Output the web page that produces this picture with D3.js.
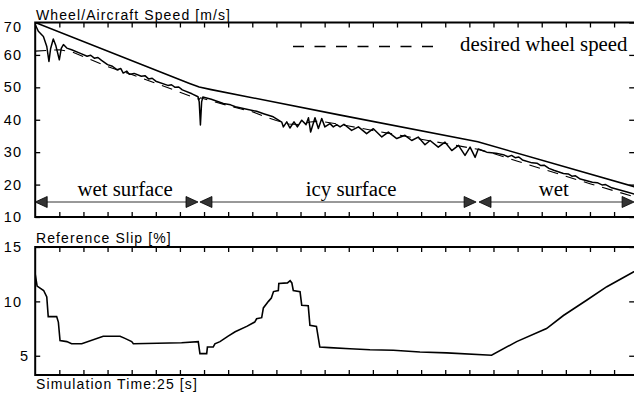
<!DOCTYPE html>
<html>
<head>
<meta charset="utf-8">
<script src="https://cdn.jsdelivr.net/npm/d3@7"></script>
<style>
  body { margin: 0; background: #fff; }
  svg { display: block; }
  .sans { font-family: "Liberation Sans", Arial, sans-serif; }
  .serif { font-family: "Liberation Serif", "Times New Roman", serif; }
</style>
</head>
<body>
<script>
// ---- data ----
const speedTicks = [10, 20, 30, 40, 50, 60, 70];
const slipTicks = [5, 10, 15];
const timeTicks = d3.range(1, 25);

// aircraft speed [t, m/s]
const aircraftSpeed = [[0, 70], [6.4, 51.2], [6.8, 50.1], [7.3, 49.3], [12.6, 41.5], [18.35, 33.2], [25, 19.0]];

// desired wheel speed [t, m/s]
const desiredSpeed = [
  [0, 61.8], [1.0, 62.2], [1.5, 61.6], [2, 60.1], [3, 57.0], [4, 54.6], [5, 51.9], [6, 49.1],
  [6.8, 46.9], [6.85, 47.4], [7.5, 46.0], [8, 45.0], [8.5, 44.0], [9, 43.1], [9.5, 41.6],
  [10, 40.4], [10.5, 39.3], [11, 39.1], [11.4, 39.9], [11.8, 40.2], [13, 38.7], [14, 37.3],
  [15, 36.0], [16, 34.6], [17, 33.3], [18.35, 31.5], [19, 30.2], [20, 27.8], [21, 25.5],
  [22, 23.2], [23, 20.9], [24, 18.7], [25, 16.5]
];

// measured wheel speed [t, m/s]
const wheelSpeed = [
  [0, 69.4], [0.13, 67.3], [0.34, 65.7], [0.48, 62.6], [0.57, 58.0], [0.64, 62.0], [0.75, 64.9],
  [0.85, 63.0], [1.0, 58.5], [1.08, 62.0], [1.17, 63.2], [1.31, 62.1], [1.51, 61.6], [1.9, 60.4],
  [2.15, 59.6], [2.3, 59.9], [2.45, 59.0], [2.6, 59.2], [2.75, 58.3], [3.0, 57.0], [3.2, 56.5],
  [3.4, 55.4], [3.55, 55.8], [3.65, 54.4], [3.8, 55.0], [3.9, 54.0], [4.1, 54.3], [4.4, 53.4],
  [4.55, 53.6], [4.7, 52.6], [4.85, 52.8], [5.0, 51.9], [5.5, 50.6], [5.65, 50.8], [5.8, 50.0],
  [5.95, 50.1], [6.1, 49.2], [6.5, 48.0], [6.75, 47.1], [6.8, 45.5], [6.85, 38.4], [6.9, 45.5],
  [6.95, 47.0], [7.3, 46.3], [7.8, 45.0], [8.1, 44.6], [8.3, 44.0], [8.63, 43.5], [9.18, 42.6],
  [9.5, 41.8], [9.87, 40.9], [10.22, 39.3],
  [10.29, 37.8], [10.43, 39.35], [10.56, 37.45], [10.73, 39.35], [10.87, 37.8], [11.05, 39.85],
  [11.23, 38.5], [11.33, 40.6], [11.42, 36.2], [11.6, 40.6], [11.74, 37.3], [11.88, 40.4],
  [12.01, 37.8], [12.22, 38.8], [12.36, 37.8], [12.5, 38.5], [12.64, 37.8], [12.8, 38.6],
  [13.12, 36.7], [13.4, 37.8], [13.74, 35.7], [14.02, 37.25], [14.37, 34.7], [14.64, 36.2],
  [14.99, 34.2], [15.33, 35.2], [15.61, 33.6], [15.88, 34.65], [16.16, 32.3], [16.37, 33.6],
  [16.71, 31.55], [16.99, 33.1], [17.27, 30.5], [17.55, 32.1], [17.82, 29.0], [18.03, 31.55],
  [18.24, 28.4], [18.37, 31.0], [18.72, 30.0],
  [19.1, 29.7], [19.45, 29.1], [19.6, 28.6], [19.75, 29.0], [19.9, 28.3], [20.05, 28.5],
  [20.2, 27.6], [20.6, 26.7], [20.8, 26.6], [20.95, 25.9], [21.1, 26.0], [21.3, 25.0],
  [21.5, 24.4], [21.9, 23.4], [22.1, 23.3], [22.25, 22.6], [22.4, 22.7], [22.6, 21.7],
  [23.1, 20.7], [23.3, 20.6], [23.5, 19.9], [23.65, 20.0], [23.9, 19.0], [24.5, 17.8], [25, 16.7]
];

// reference slip [t, %]
const referenceSlip = [
  [0, 12.5], [0.08, 11.4], [0.35, 11.0], [0.48, 10.4], [0.54, 8.6], [0.89, 8.6], [0.96, 8.1],
  [1.03, 6.4], [1.31, 6.3], [1.51, 6.1], [1.93, 6.1], [2.82, 6.8], [3.52, 6.8], [3.72, 6.6],
  [4.0, 6.3], [4.07, 6.1], [6.07, 6.2], [6.76, 6.3], [6.83, 5.2], [7.11, 5.2], [7.14, 5.8],
  [7.38, 5.8], [7.45, 6.1], [7.66, 6.3], [8.0, 6.8], [8.29, 7.2], [8.77, 7.7], [9.1, 8.1],
  [9.18, 8.4], [9.39, 8.5], [9.46, 9.4], [9.67, 10.0], [9.79, 10.3], [9.88, 10.9], [10.08, 11.0],
  [10.1, 11.65], [10.46, 11.7], [10.57, 11.9], [10.64, 11.7], [10.7, 11.0], [10.98, 10.9],
  [11.05, 9.65], [11.32, 9.6], [11.39, 7.8], [11.66, 7.7], [11.8, 5.8], [12.2, 5.75],
  [13.05, 5.65], [13.88, 5.55], [14.85, 5.5], [15.95, 5.35], [17.06, 5.26], [18.92, 5.05],
  [19.96, 6.3], [21.2, 7.5], [21.9, 8.7], [22.86, 10.1], [23.7, 11.35], [24.8, 12.7], [25, 12.9]
];

// runway surface sections
const surfaceNames = ["wet surface", "icy surface", "wet"];
const surfaceStart = [0, 6.83, 18.4];
const surfaceEnd = [6.75, 18.28, 24.83];
const surfaceLabelAt = [3.73, 13.1, 21.5];

// ---- layout ----
const width = 634, height = 395;

const svg = d3.select("body").append("svg")
  .attr("width", width)
  .attr("height", height);

const x = d3.scaleLinear().domain([0, 25]).range([35.2, 638.2]);
const ySpeed = d3.scaleLinear().domain([10, 70]).range([217, 22.5]);
const ySlip = d3.scaleLinear().domain([3.23, 15]).range([375, 247]);

const fontAxis = "14.5px";

function panel(y, ticks, title, titleY, clipId) {
  const g = svg.append("g");
  const [y0, y1] = y.range();

  svg.append("clipPath").attr("id", clipId)
    .append("rect")
    .attr("x", x(0)).attr("y", y1)
    .attr("width", x(25) - x(0)).attr("height", y0 - y1);

  // tick marks along the top and bottom edges
  g.append("g")
    .attr("transform", `translate(0,${y1})`)
    .call(d3.axisTop(x).tickValues(timeTicks).tickSize(-5).tickFormat(""))
    .call(a => a.select(".domain").remove());
  g.append("g")
    .attr("transform", `translate(0,${y0})`)
    .call(d3.axisBottom(x).tickValues(timeTicks).tickSize(-5).tickFormat(""))
    .call(a => a.select(".domain").remove());

  // left axis with labels
  const left = g.append("g")
    .attr("class", "sans")
    .attr("transform", `translate(${x(0)},0)`)
    .call(d3.axisLeft(y).tickValues(ticks).tickSize(-5).tickPadding(13))
    .call(a => a.select(".domain").remove());
  left.selectAll("text")
    .attr("font-size", fontAxis)
    .attr("letter-spacing", "1.2px")
    .attr("fill", "#000");

  // right axis ticks
  g.append("g")
    .attr("transform", `translate(${x(25)},0)`)
    .call(d3.axisRight(y).tickValues(ticks).tickSize(-9).tickFormat(""))
    .call(a => a.select(".domain").remove());

  g.selectAll(".tick line").attr("stroke", "#000").attr("stroke-width", 1.3);

  // frame
  g.append("path")
    .attr("d", `M${x(25)},${y1}H${x(0)}V${y0}H${x(25)}`)
    .attr("fill", "none")
    .attr("stroke", "#000")
    .attr("stroke-width", 2);

  svg.append("text")
    .attr("class", "sans")
    .attr("x", 36).attr("y", titleY)
    .attr("font-size", "14px")
    .attr("letter-spacing", "1.1px")
    .text(title);

  return left;
}

const leftTop = panel(ySpeed, speedTicks, "Wheel/Aircraft Speed [m/s]", 19.5, "clipTop");
leftTop.selectAll(".tick text").filter(d => d === 70).attr("dy", "0.62em");

const leftBottom = panel(ySlip, slipTicks, "Reference Slip [%]", 242.5, "clipBottom");
leftBottom.selectAll(".tick text").filter(d => d === 5).attr("dx", 7);

svg.append("text")
  .attr("class", "sans")
  .attr("x", 36).attr("y", 389)
  .attr("font-size", "14px")
  .attr("letter-spacing", "1.1px")
  .text("Simulation Time:25 [s]");

// ---- lines ----
const lineSpeed = d3.line().x(d => x(d[0])).y(d => ySpeed(d[1]));
const lineSlip = d3.line().x(d => x(d[0])).y(d => ySlip(d[1]));

const speedPlot = svg.append("g").attr("clip-path", "url(#clipTop)");

speedPlot.append("path")
  .datum(desiredSpeed)
  .attr("d", lineSpeed)
  .attr("fill", "none")
  .attr("stroke", "#000")
  .attr("stroke-width", 1.1)
  .attr("stroke-dasharray", "11,8")
  .attr("transform", "translate(0,2)");

speedPlot.append("path")
  .datum(aircraftSpeed)
  .attr("d", lineSpeed)
  .attr("fill", "none")
  .attr("stroke", "#000")
  .attr("stroke-width", 1.6);

speedPlot.append("path")
  .datum(wheelSpeed)
  .attr("d", lineSpeed)
  .attr("fill", "none")
  .attr("stroke", "#000")
  .attr("stroke-width", 1.5)
  .attr("stroke-linejoin", "round");

svg.append("g").attr("clip-path", "url(#clipBottom)")
  .append("path")
  .datum(referenceSlip)
  .attr("d", lineSlip)
  .attr("fill", "none")
  .attr("stroke", "#000")
  .attr("stroke-width", 1.6);

// ---- legend ----
svg.append("line")
  .attr("x1", 293).attr("x2", 436)
  .attr("y1", 46.5).attr("y2", 46.5)
  .attr("stroke", "#000")
  .attr("stroke-width", 1.6)
  .attr("stroke-dasharray", "11,10.5");

svg.append("text")
  .attr("class", "serif")
  .attr("x", 460).attr("y", 51)
  .attr("font-size", "20.8px")
  .text("desired wheel speed");

// ---- surface sections ----
const arrowY = 202;
const sections = svg.append("g");
surfaceNames.forEach((name, i) => {
  const xa = x(surfaceStart[i]), xb = x(surfaceEnd[i]);
  sections.append("line")
    .attr("x1", xa + 10).attr("x2", xb - 10)
    .attr("y1", arrowY).attr("y2", arrowY)
    .attr("stroke", "#333")
    .attr("stroke-width", 1);
  sections.append("path")
    .attr("d", `M${xa},${arrowY}L${xa + 12},${arrowY - 5.5}L${xa + 12},${arrowY + 5.5}Z`)
    .attr("fill", "#333")
    .attr("stroke", "#000")
    .attr("stroke-width", 0.8);
  sections.append("path")
    .attr("d", `M${xb},${arrowY}L${xb - 12},${arrowY - 5.5}L${xb - 12},${arrowY + 5.5}Z`)
    .attr("fill", "#333")
    .attr("stroke", "#000")
    .attr("stroke-width", 0.8);
  sections.append("text")
    .attr("class", "serif")
    .attr("x", x(surfaceLabelAt[i]))
    .attr("y", 196)
    .attr("text-anchor", "middle")
    .attr("font-size", "20.8px")
    .text(name);
});
</script>
</body>
</html>
